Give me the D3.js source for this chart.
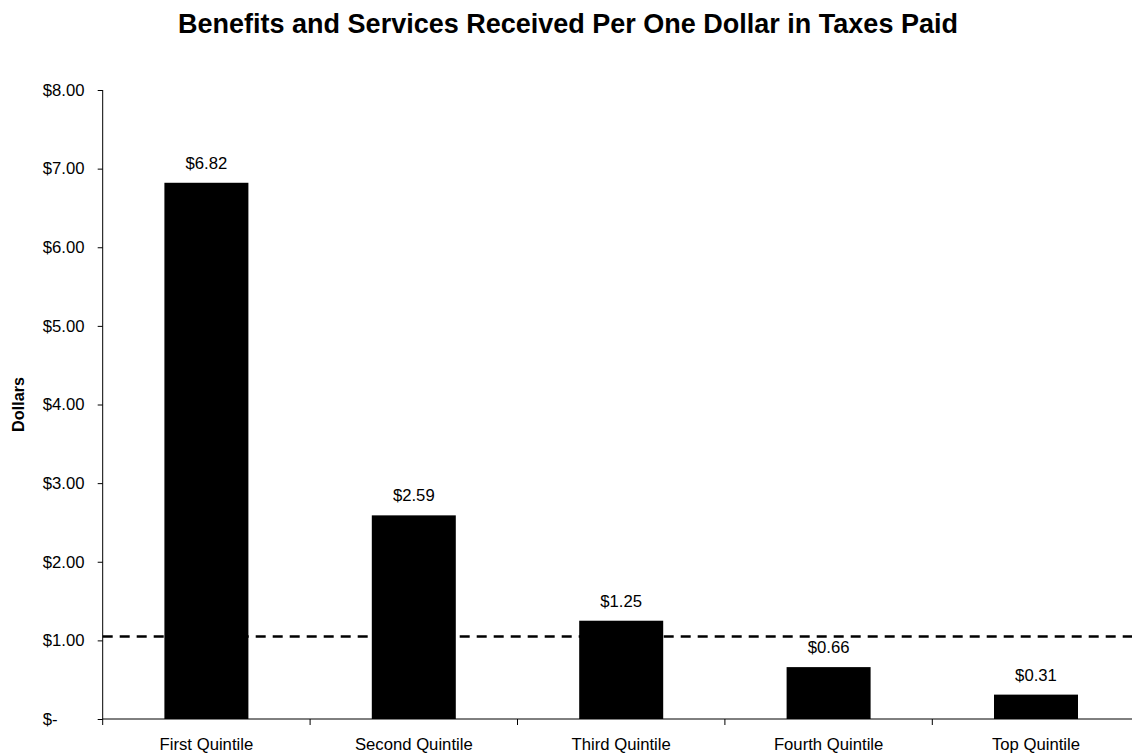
<!DOCTYPE html>
<html lang="en">
<head>
    <meta charset="utf-8">
    <title>index.html</title>
    <script type="text/javascript" src="https://cdnjs.cloudflare.com/ajax/libs/d3/7.8.5/d3.min.js"></script>
    <style>
      body { margin: 0; background: #fff; }
      text { font-family: "Liberation Sans", Arial, sans-serif; fill: #000; }
    </style>
</head>
<body>
    <script type="text/javascript">
      //chart data
      var categories = ["First Quintile", "Second Quintile", "Third Quintile", "Fourth Quintile", "Top Quintile"];
      var values = [6.82, 2.59, 1.25, 0.66, 0.31];
      var yTicks = [0, 1, 2, 3, 4, 5, 6, 7, 8];
      var refLine = 1.05;

      //dimensions
      var width = 1132,
          height = 755,
          plotLeft = 102.7,
          plotRight = 1139.7,
          plotTop = 90,
          plotBottom = 719,
          fontSize = 16.7;

      var svg = d3.select("body")
                  .append("svg")
                  .attr("width", width)
                  .attr("height", height);

      //scales
      var xScale = d3.scaleBand()
                     .domain(categories)
                     .range([plotLeft, plotRight])
                     .paddingInner(0.595)
                     .paddingOuter(0.2975);

      var yScale = d3.scaleLinear()
                     .domain([0, 8])
                     .range([plotBottom, plotTop]);

      //title
      svg.append("text")
         .attr("x", 568)
         .attr("y", 33)
         .attr("text-anchor", "middle")
         .style("font-size", "27px")
         .style("font-weight", "bold")
         .text("Benefits and Services Received Per One Dollar in Taxes Paid");

      //y axis title
      svg.append("text")
         .attr("transform", "translate(24," + ((plotTop + plotBottom) / 2) + ") rotate(-90)")
         .attr("text-anchor", "middle")
         .style("font-size", "16.2px")
         .style("font-weight", "bold")
         .text("Dollars");

      //y axis
      var yAxis = d3.axisLeft(yScale)
                    .tickValues(yTicks)
                    .tickSize(5)
                    .tickFormat(function(d) { return d === 0 ? "$-" : d3.format("$.2f")(d); });

      var yG = svg.append("g")
         .attr("transform", "translate(" + plotLeft + ",0)")
         .call(yAxis);
      yG.select(".domain").attr("d", "M0," + plotTop + "V" + (plotBottom + 6));
      yG.selectAll("line").attr("stroke", "black");
      yG.selectAll("text")
        .attr("text-anchor", "start")
        .attr("x", -60)
        .attr("fill", "black")
        .style("font-size", fontSize + "px")
        .style("font-family", "'Liberation Sans', Arial, sans-serif");

      //dashed reference line
      svg.append("line")
         .attr("x1", plotLeft)
         .attr("x2", width)
         .attr("y1", yScale(refLine))
         .attr("y2", yScale(refLine))
         .attr("stroke", "black")
         .attr("stroke-width", 2.5)
         .attr("stroke-dasharray", "10,7");

      //bars
      svg.selectAll(".bar")
         .data(values)
         .enter()
         .append("rect")
         .attr("class", "bar")
         .attr("x", function(d, i) { return xScale(categories[i]); })
         .attr("y", function(d) { return yScale(d); })
         .attr("width", xScale.bandwidth())
         .attr("height", function(d) { return yScale(0) - yScale(d); })
         .attr("fill", "black");

      //value labels
      svg.selectAll(".label")
         .data(values)
         .enter()
         .append("text")
         .attr("class", "label")
         .attr("x", function(d, i) { return xScale(categories[i]) + xScale.bandwidth() / 2; })
         .attr("y", function(d) { return yScale(d) - 14; })
         .attr("text-anchor", "middle")
         .style("font-size", fontSize + "px")
         .text(function(d) { return d3.format("$.2f")(d); });

      //x axis, labels only
      var xAxis = d3.axisBottom(xScale)
                    .tickSize(0)
                    .tickPadding(19);

      var xG = svg.append("g")
         .attr("transform", "translate(0," + plotBottom + ")")
         .call(xAxis);
      xG.select(".domain").attr("d", "M" + plotLeft + ",0H" + plotRight).attr("stroke", "black");
      xG.selectAll("text")
        .attr("fill", "black")
        .style("font-size", fontSize + "px")
        .style("font-family", "'Liberation Sans', Arial, sans-serif");

      //boundary ticks between categories
      var step = xScale.step();
      svg.selectAll(".btick")
         .data(categories)
         .enter()
         .append("line")
         .attr("class", "btick")
         .attr("x1", function(d) { return xScale(d) - step * 0.2975 + step; })
         .attr("x2", function(d) { return xScale(d) - step * 0.2975 + step; })
         .attr("y1", plotBottom)
         .attr("y2", plotBottom + 6)
         .attr("stroke", "black");
    </script>
</body>
</html>
